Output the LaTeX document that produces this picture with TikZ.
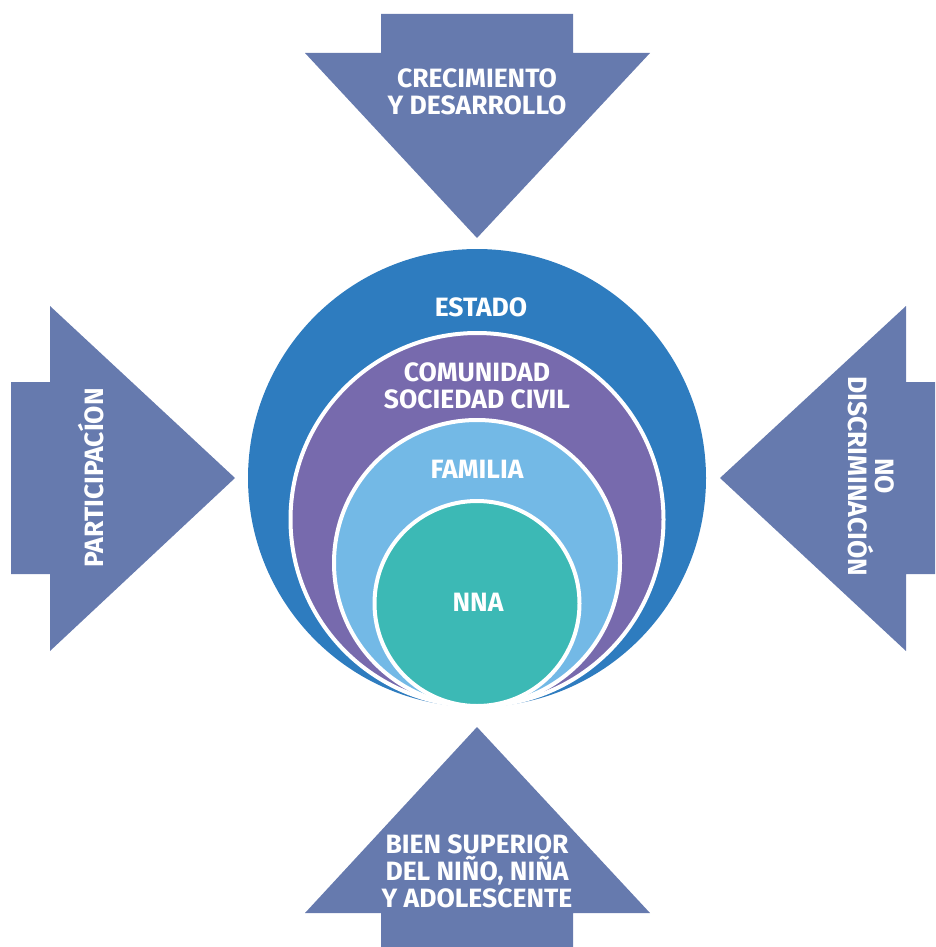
\documentclass[tikz,border=0pt]{standalone}
\usepackage{fontspec}
\setmainfont{Fira Sans}
\definecolor{arrowc}{RGB}{102,122,174}
\definecolor{estadoc}{RGB}{46,124,191}
\definecolor{comunc}{RGB}{119,106,173}
\definecolor{famc}{RGB}{115,185,230}
\definecolor{nnac}{RGB}{60,185,181}
\begin{document}
\begin{tikzpicture}[x=1pt,y=-1pt,
  arrowshape/.style={fill=arrowc,draw=none},
  ring/.style={circle,draw=white,line width=4pt,inner sep=0pt},
  lbl/.style={text=white,font=\fontsize{26.5}{27}\selectfont\bfseries,align=center,inner sep=0pt}]
\useasboundingbox (0,0) rectangle (935,947);
% arrows
\path[arrowshape] (381,14) -- (573,14) -- (573,53) -- (650,53) -- (477,238) -- (305,53) -- (381,53) -- cycle;
\path[arrowshape] (11,382) -- (50,382) -- (50,306) -- (235,478) -- (50,651) -- (50,574) -- (11,574) -- cycle;
\path[arrowshape] (935,382) -- (906,382) -- (906,306) -- (720,478) -- (906,651) -- (906,574) -- (935,574) -- cycle;
\path[arrowshape] (477,727) -- (650,913) -- (573,913) -- (573,947) -- (381,947) -- (381,913) -- (305,913) -- cycle;
% circles
\node[circle,fill=estadoc,inner sep=0pt,minimum size=458pt] (estado) at (477,478) {};
\node[ring,fill=comunc,minimum size=373pt] (comun) at (477,519.5) {};
\node[ring,fill=famc,minimum size=286pt] (fam) at (477,563) {};
\node[ring,fill=nnac,minimum size=205pt] (nna) at (477,603.5) {};
% labels
\node[lbl] (tEstado) at (481,307) {ESTADO};
\node[lbl] (tComun) at (477,385.5) {COMUNIDAD\\SOCIEDAD CIVIL};
\node[lbl] (tFam) at (477,469) {FAMILIA};
\node[lbl] (tNna) at (478,602) {NNA};
\node[lbl] (tCrec) at (477,91.5) {CRECIMIENTO\\Y DESARROLLO};
\node[lbl,rotate=90] (tPart) at (91,478) {PARTICIPACÍON};
\node[lbl,rotate=-90] (tNo) at (871,476) {NO\\DISCRIMINACIÓN};
\node[lbl] (tBien) at (477,871) {BIEN SUPERIOR\\DEL NIÑO, NIÑA\\Y ADOLESCENTE};
\end{tikzpicture}
\end{document}
